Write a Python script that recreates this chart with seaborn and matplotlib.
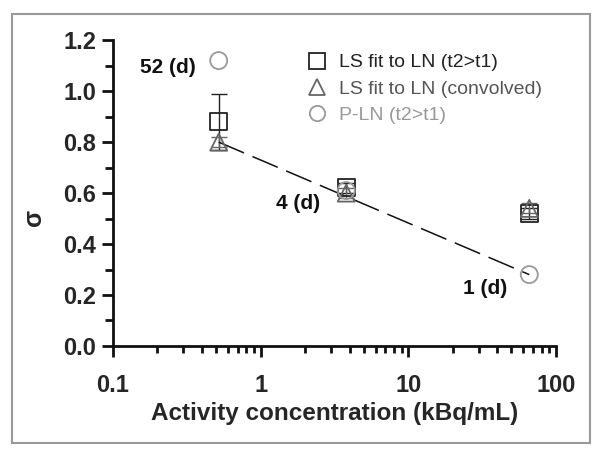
import matplotlib
matplotlib.use("Agg")
import matplotlib.pyplot as plt
import seaborn as sns
import pandas as pd
import numpy as np
from matplotlib.lines import Line2D
from matplotlib.patches import Rectangle
from matplotlib.ticker import NullFormatter, LogLocator

sns.set_style("ticks")
plt.rcParams['font.family'] = ['Liberation Sans', 'DejaVu Sans']

activity = [0.52, 3.8, 66.0]
ls_t2t1 = [0.88, 0.62, 0.52]
ls_t2t1_err = [0.11, 0.02, 0.02]
ls_conv = [0.80, 0.60, 0.54]
ls_conv_err = [0.02, 0.02, 0.02]
pln = [1.12, 0.61, 0.28]
day_labels = ["52 (d)", "4 (d)", "1 (d)"]
series_names = ["LS fit to LN (t2>t1)", "LS fit to LN (convolved)", "P-LN (t2>t1)"]
fit_x = [0.52, 66.0]
fit_y = [0.80, 0.28]

c_sq, c_tri, c_circ = "#222222", "#666666", "#999999"

fig = plt.figure(figsize=(6.01, 4.57), dpi=100)
ax = fig.add_axes([0.188, 0.243, 0.737, 0.669])

ax.errorbar(activity, ls_t2t1, yerr=ls_t2t1_err, fmt="none", ecolor=c_sq, elinewidth=1, capsize=6, capthick=1, zorder=2)
ax.errorbar(activity, ls_conv, yerr=ls_conv_err, fmt="none", ecolor=c_tri, elinewidth=1, capsize=6, capthick=1, zorder=2)

sns.lineplot(x=fit_x, y=fit_y, ax=ax, color="#111111", lw=1.1, zorder=3)
ax.lines[-1].set_dashes([18, 6])

df = pd.DataFrame({
    "x": activity * 3,
    "y": ls_t2t1 + ls_conv + pln,
    "series": [series_names[0]] * 3 + [series_names[1]] * 3 + [series_names[2]] * 3,
})
markers = {series_names[0]: "s", series_names[1]: "^", series_names[2]: "o"}
colors = {series_names[0]: c_sq, series_names[1]: c_tri, series_names[2]: c_circ}
for name in series_names:
    sub = df[df.series == name]
    sns.scatterplot(data=sub, x="x", y="y", ax=ax, marker=markers[name], s=150,
                    facecolor="none", edgecolor=colors[name], linewidth=1.3, zorder=4, legend=False)

ax.set_xscale("log")
ax.set_xlim(0.1, 100)
ax.set_ylim(0, 1.2)
yt = np.arange(0, 1.21, 0.2)
ax.set_yticks(yt)
ax.set_yticks(np.arange(0.1, 1.2, 0.2), minor=True)
ax.set_yticklabels([f"{v:.1f}" for v in yt])
ax.set_xticks([0.1, 1, 10, 100])
ax.set_xticklabels(["0.1", "1", "10", "100"])
ax.xaxis.set_minor_locator(LogLocator(base=10, subs=np.arange(2, 10)))
ax.xaxis.set_minor_formatter(NullFormatter())

for s in ["top", "right"]:
    ax.spines[s].set_visible(False)
for s in ["left", "bottom"]:
    ax.spines[s].set_linewidth(2)
    ax.spines[s].set_color("#111111")

ax.tick_params(axis="both", which="major", length=8, width=2, direction="out", color="#111111",
               labelsize=17, pad=4)
ax.tick_params(axis="y", which="minor", length=6, width=2, direction="out", color="#111111")
ax.tick_params(axis="x", which="minor", length=5, width=2, direction="out", color="#111111")
for lab in ax.get_xticklabels() + ax.get_yticklabels():
    lab.set_fontweight("bold")
ax.tick_params(axis="x", pad=12)

ax.set_xlabel("Activity concentration (kBq/mL)", fontsize=17.5, fontweight="bold", labelpad=4)
ax.set_ylabel("σ", fontsize=18, fontweight="bold")
ax.yaxis.set_label_coords(-0.152, 0.42)

ann_pos = [(0.235, 1.094), (1.79, 0.56), (33.0, 0.227)]
for (xx, yy), t in zip(ann_pos, day_labels):
    ax.text(xx, yy, t, fontsize=15, fontweight="bold", ha="center", va="center", color="#111111")

handles = [Line2D([], [], ls="none", marker=markers[n], markersize=11, markerfacecolor="none",
                  markeredgecolor=colors[n], markeredgewidth=1.3) for n in series_names]
leg = ax.legend(handles, series_names, loc="upper right", bbox_to_anchor=(1.0, 1.0), frameon=False,
                fontsize=14, handletextpad=0.15, labelspacing=0.45, borderaxespad=0.3)
for txt, c in zip(leg.get_texts(), ["#222222", "#555555", "#999999"]):
    txt.set_color(c)

fig.patches.append(Rectangle((12 / 601, 1 - 443 / 457), 578 / 601, 429 / 457, transform=fig.transFigure,
                             fill=False, edgecolor="#999999", lw=1.5))

fig.savefig("out.png", dpi=100)
